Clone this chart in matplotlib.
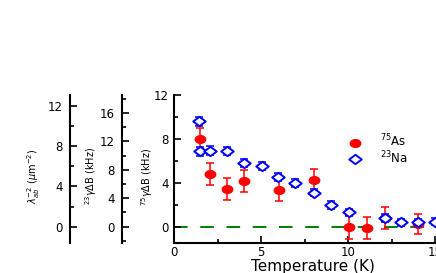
import numpy as np
import matplotlib.pyplot as plt
from matplotlib.path import Path
from matplotlib.transforms import Affine2D
from matplotlib.ticker import MultipleLocator

# 75As NMR line broadening (kHz)
as_temp = [1.5, 2.05, 3.05, 4.05, 6.05, 8.05, 10.05, 11.1, 12.1, 14.0]
as_width = [7.95, 4.75, 3.4, 4.2, 3.35, 4.25, 0.0, -0.1, 0.75, 0.25]
as_err = [1.0, 1.0, 1.0, 1.0, 1.0, 1.0, 1.1, 1.0, 1.0, 0.9]

# 23Na line broadening, expressed on the 75As scale
na_temp = [1.45, 1.5, 2.05, 3.05, 4.05, 5.05, 6.0, 6.95, 8.05, 9.05, 10.05, 12.1, 13.05, 14.0, 15.0]
na_width = [9.6, 6.85, 6.9, 6.9, 5.8, 5.5, 4.5, 3.95, 3.1, 1.95, 1.3, 0.8, 0.4, 0.4, 0.45]
na_err = [0.4, 0.4, 0.4, 0.35, 0.4, 0.35, 0.35, 0.35, 0.35, 0.35, 0.35, 0.35, 0.3, 0.3, 0.3]

gamma_ratio = 1.545   # 23Na / 75As scale
lambda_ratio = 1.09   # lambda^-2 / 75As scale

ylo, yhi = -1.5, 12

# widened markers (the original picture is stretched sideways)
ellipse = Affine2D().scale(1.35, 1).transform_path(Path.unit_circle())
diamond = Path([(-1, 0), (0, 0.75), (1, 0), (0, -0.75), (-1, 0)], closed=True)

fig = plt.figure(figsize=(4.36, 2.73), dpi=100)
W, H = 436, 273
bottom = 1 - 243.2 / H
height = (243.2 - 94.7) / H


def side_axis(x_px, lo, hi, major, minor):
    a = fig.add_axes([x_px / W, bottom, 0.01, height])
    a.set_ylim(lo, hi)
    a.yaxis.set_major_locator(MultipleLocator(major))
    a.yaxis.set_minor_locator(MultipleLocator(minor))
    for s in ['top', 'right', 'bottom']:
        a.spines[s].set_visible(False)
    a.spines['left'].set_linewidth(1.5)
    a.xaxis.set_visible(False)
    a.patch.set_visible(False)
    a.tick_params(axis='y', direction='in', length=5, width=1.2, labelsize=8.5, pad=5)
    a.tick_params(axis='y', which='minor', direction='in', length=3, width=1.2)
    return a


side_axis(70, ylo * lambda_ratio, yhi * lambda_ratio, 4, 2)
side_axis(121.7, ylo * gamma_ratio, yhi * gamma_ratio, 4, 2)

ax = fig.add_axes([174 / W, bottom, 278.4 / W, height])
ax.set_xlim(0, 16)
ax.set_ylim(ylo, yhi)
ax.patch.set_visible(False)

ax.axhline(0, color='green', lw=1.4, ls=(0, (7, 6.5)), zorder=1)

ax.errorbar(as_temp, as_width, yerr=as_err, fmt='none', ecolor='red',
            elinewidth=1.1, capsize=3, capthick=1.1, zorder=2)
ax.plot(as_temp, as_width, ls='none', marker=ellipse, ms=7.5,
        color='red', label=r'$^{75}$As', zorder=3)
ax.errorbar(na_temp, na_width, yerr=na_err, fmt='none', ecolor='blue',
            elinewidth=1.1, capsize=3, capthick=1.1, zorder=4)
ax.plot(na_temp, na_width, ls='none', marker=diamond, ms=9, mfc='white',
        mec='blue', mew=1.4, label=r'$^{23}$Na', zorder=5)

ax.xaxis.set_major_locator(MultipleLocator(5))
ax.xaxis.set_minor_locator(MultipleLocator(2.5))
ax.yaxis.set_major_locator(MultipleLocator(4))
ax.yaxis.set_minor_locator(MultipleLocator(2))
ax.spines['top'].set_visible(False)
ax.spines['right'].set_visible(False)
ax.spines['left'].set_linewidth(1.5)
ax.spines['bottom'].set_linewidth(1.5)
ax.tick_params(direction='in', length=5, width=1.2, labelsize=8.5)
ax.tick_params(axis='y', pad=4)
ax.tick_params(axis='x', pad=2)
ax.tick_params(which='minor', direction='in', length=3, width=1.2)

ax.set_xlabel('Temperature (K)', fontsize=11, labelpad=0)

fig.text(34 / W, 1 - 176 / H, r'$\lambda_{ab}^{-2}$ ($\mu$m$^{-2}$)',
         rotation=90, ha='center', va='center', fontsize=7)
fig.text(91 / W, 1 - 176 / H, r'$^{23}\gamma\Delta$B (kHz)',
         rotation=90, ha='center', va='center', fontsize=7)
fig.text(147 / W, 1 - 177 / H, r'$^{75}\gamma\Delta$B (kHz)',
         rotation=90, ha='center', va='center', fontsize=7)

ax.legend(loc='center left', bbox_to_anchor=(0.62, 0.63), frameon=False,
          fontsize=8.5, handlelength=1.5, handletextpad=1.3, labelspacing=0.0,
          borderpad=0, borderaxespad=0)

fig.savefig('out.png', dpi=100)
